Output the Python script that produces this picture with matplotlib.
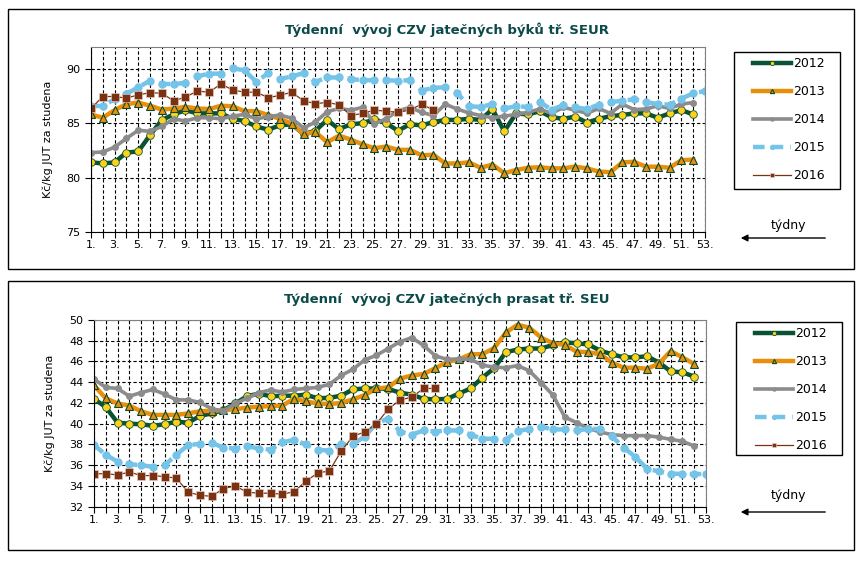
import numpy as np
import matplotlib
matplotlib.use("Agg")
import matplotlib.pyplot as plt
from matplotlib.patches import Rectangle, FancyArrowPatch

years = ["2012", "2013", "2014", "2015", "2016"]

# jatečný býk SEUR (Kč/kg)
byk_2012 = [81.4, 81.3, 81.4, 82.3, 82.4, 83.9, 85.3, 85.8, 86.2, 85.9, 85.9, 85.9, 85.4,
            85.2, 84.7, 84.4, 84.8, 84.9, 84.0, 84.3, 85.3, 84.45, 84.9, 85.0, 85.35, 85.0,
            84.3, 84.9, 84.8, 85.1, 85.3, 85.3, 85.4, 85.3, 86.3, 84.25, 85.9, 85.8, 86.1,
            85.55, 85.4, 85.6, 85.05, 85.4, 85.65, 85.75, 85.9, 85.9, 85.5, 85.9, 86.2, 85.8]
byk_2013 = [85.8, 85.5, 86.2, 86.75, 86.9, 86.6, 86.25, 86.35, 86.5, 86.35, 86.3, 86.6, 86.55,
            86.1, 86.1, 85.75, 85.4, 84.95, 84.0, 84.2, 83.25, 83.85, 83.5, 83.05, 82.7, 82.85,
            82.55, 82.55, 82.05, 82.1, 81.3, 81.3, 81.4, 80.9, 81.2, 80.4, 80.7, 80.9, 80.95,
            80.85, 80.85, 81.0, 80.85, 80.55, 80.5, 81.4, 81.45, 81.0, 81.0, 80.9, 81.6, 81.65]
byk_2014 = [82.3, 82.35, 82.8, 83.6, 84.35, 84.25, 84.7, 85.4, 85.2, 85.5, 85.5, 85.4, 85.65,
            85.8, 85.4, 85.6, 85.75, 85.45, 84.55, 85.1, 86.05, 86.35, 86.2, 86.45, 84.95, 85.4,
            86.15, 86.45, 86.0, 85.7, 86.75, 86.3, 85.95, 85.7, 85.5, 85.65, 85.8, 86.0, 86.3,
            85.9, 86.45, 86.2, 85.9, 86.35, 85.9, 86.75, 86.25, 86.3, 86.6, 86.35, 86.75, 86.9]
byk_2015 = [86.55, 86.6, 87.2, 87.7, 88.3, 88.9, 88.6, 88.6, 88.7, 89.3, 89.55, 89.55, 90.05,
            89.85, 88.8, 89.6, 89.05, 89.3, 89.6, 88.8, 89.2, 89.2, 89.05, 88.95, 88.95, 88.95,
            88.9, 88.95, 88.0, 88.25, 88.3, 87.8, 86.55, 86.5, 86.75, 86.35, 86.55, 86.5, 86.95,
            86.25, 86.65, 86.45, 86.3, 86.7, 86.95, 87.05, 87.2, 86.95, 86.75, 86.7, 87.25, 87.75,
            87.95]
byk_2016 = [86.35, 87.45, 87.45, 87.3, 87.6, 87.8, 87.75, 87.05, 87.4, 87.95, 87.85, 88.6, 88.05,
            87.85, 87.85, 87.35, 87.55, 87.85, 87.05, 86.8, 86.9, 86.7, 85.7, 85.9, 86.2, 86.1,
            86.0, 86.2, 86.75, 86.2]

# jatečné prase SEU (Kč/kg)
prase_2012 = [42.4, 41.6, 40.1, 40.0, 39.95, 39.8, 39.95, 40.2, 40.1, 40.75, 41.0, 41.3, 41.95,
              42.65, 42.9, 42.65, 42.7, 42.7, 42.8, 42.45, 42.5, 42.7, 43.3, 43.4, 43.4, 43.35,
              43.0, 42.8, 42.4, 42.35, 42.4, 42.9, 43.4, 44.45, 45.35, 46.9, 47.15, 47.25, 47.25,
              47.6, 47.85, 47.75, 47.65, 47.05, 46.7, 46.4, 46.4, 46.5, 45.9, 45.05, 44.95, 44.55]
prase_2013 = [43.7, 42.45, 41.95, 41.75, 41.2, 40.85, 40.85, 40.85, 41.0, 41.2, 41.25, 41.3, 41.4,
              41.55, 41.65, 41.7, 41.75, 42.4, 42.15, 41.95, 41.9, 42.0, 42.35, 42.75, 43.4, 43.5,
              44.35, 44.65, 44.8, 45.35, 45.95, 46.2, 46.7, 46.7, 47.3, 48.8, 49.55, 49.25, 48.3,
              47.75, 47.6, 46.95, 46.9, 46.7, 45.9, 45.4, 45.4, 45.3, 45.8, 47.0, 46.4, 45.75]
prase_2014 = [44.3, 43.5, 43.4, 42.65, 43.0, 43.3, 42.85, 42.3, 42.3, 42.05, 41.45, 41.2, 41.95,
              42.45, 43.0, 43.25, 43.05, 43.3, 43.4, 43.5, 43.8, 44.65, 45.25, 46.15, 46.6, 47.25,
              47.9, 48.3, 47.55, 46.55, 46.2, 46.25, 46.2, 45.65, 45.45, 45.4, 45.6, 45.1, 43.95,
              42.75, 40.65, 40.1, 39.55, 39.2, 38.95, 38.85, 38.85, 38.85, 38.7, 38.5, 38.3, 37.85]
prase_2015 = [37.95, 37.0, 36.35, 36.1, 36.0, 35.85, 36.0, 37.0, 37.95, 38.05, 38.15, 37.7, 37.6,
              37.85, 37.6, 37.5, 38.2, 38.45, 38.0, 37.5, 37.4, 38.0, 38.05, 38.75, 40.05, 40.5,
              39.25, 38.95, 39.35, 39.25, 39.35, 39.35, 38.95, 38.55, 38.55, 38.45, 39.3, 39.5,
              39.7, 39.45, 39.45, 39.35, 39.5, 39.5, 38.8, 37.7, 36.8, 35.65, 35.4, 35.2, 35.15,
              35.15, 35.15]
prase_2016 = [35.15, 35.2, 35.05, 35.35, 35.0, 35.0, 34.9, 34.75, 33.4, 33.1, 33.0, 33.75, 34.0,
              33.4, 33.3, 33.3, 33.2, 33.45, 34.45, 35.25, 35.45, 37.35, 38.8, 39.2, 40.0, 41.4,
              42.3, 42.55, 43.4, 43.4]

weeks_all = list(range(1, 54))
week_labels = [f"{w}." if w % 2 == 1 else "" for w in weeks_all]

styles = [
    dict(color="#0a5234", lw=3.2, marker="o", ms=5.5, mfc="#ffd21a", mec="#0a5234", mew=0.6),
    dict(color="#e8900c", lw=3.2, marker="^", ms=5.5, mfc="#e8900c", mec="#0a4a2a", mew=0.8),
    dict(color="#8c8c8c", lw=2.6, marker="o", ms=4.0, mfc="#8c8c8c", mec="#8c8c8c"),
    dict(color="#74c3e8", lw=3.2, marker="o", ms=5, mfc="#74c3e8", mec="#74c3e8",
         linestyle=(0, (2.6, 1.6))),
    dict(color="#7a3212", lw=0.9, marker="s", ms=5.5, mfc="#7a3212", mec="#f0d0c8", mew=0.4),
]

fig = plt.figure(figsize=(8.65, 5.62), dpi=100)
title_color = "#0c4a4a"


def px_rect(x, y, w, h, **kw):
    fig.patches.append(Rectangle((x / 865, 1 - (y + h) / 562), w / 865, h / 562,
                                 transform=fig.transFigure, fill=False,
                                 edgecolor="black", **kw))


px_rect(8, 9, 846, 260, lw=1.0)
px_rect(8, 281, 846, 269, lw=1.0)


def draw(ax, series, ylim, yticks, title, title_y, leg_box, arrow_y, label_y):
    for data, yr, st in zip(series, years, styles):
        weeks = np.arange(1, len(data) + 1)
        ax.plot(weeks, data, label=yr, **st)
    ax.set_xlim(1, 53)
    ax.set_ylim(*ylim)
    ax.set_xticks(weeks_all)
    ax.set_xticklabels(week_labels)
    ax.set_yticks(yticks)
    ax.tick_params(axis="both", labelsize=8, length=4, direction="out", width=0.8)
    ax.tick_params(axis="x", pad=2)
    ax.grid(True, which="major", color="black", linestyle=(0, (3, 2)), linewidth=0.8)
    ax.set_axisbelow(True)
    for s in ["top", "right"]:
        ax.spines[s].set_color("#808080")
    ax.set_ylabel("Kč/kg JUT za studena", fontsize=8, labelpad=10)
    fig.text(0.517, title_y, title, ha="center", va="center", fontsize=9.5,
             fontweight="bold", color=title_color)

    # legend: frame drawn separately, entries placed inside
    x0, y0, x1, y1 = leg_box
    px_rect(x0, y0, x1 - x0, y1 - y0, lw=1.0)
    ax.legend(loc="upper left", bbox_to_anchor=(x0 / 865 + 19 / 865, 1 - (y0 + 5) / 562),
              bbox_transform=fig.transFigure, fontsize=9, frameon=False,
              handlelength=3.0, labelspacing=1.2, borderpad=0, handletextpad=0.25,
              borderaxespad=0, markerscale=0.55)

    fig.text(788 / 865, 1 - label_y / 562, "týdny", ha="center", va="center", fontsize=9)
    fig.add_artist(FancyArrowPatch(
        (828 / 865, 1 - arrow_y / 562), (738 / 865, 1 - arrow_y / 562),
        transform=fig.transFigure, arrowstyle="-|>", mutation_scale=10,
        color="black", lw=1.0))


ax1 = fig.add_axes([91 / 865, 1 - 232 / 562, 614 / 865, 185 / 562])
draw(ax1, [byk_2012, byk_2013, byk_2014, byk_2015, byk_2016], (75, 92), [75, 80, 85, 90],
     "Týdenní  vývoj CZV jatečných býků tř. SEUR", 1 - 30 / 562,
     (734, 52, 840, 189), 238, 226)

ax2 = fig.add_axes([94 / 865, 1 - 506.7 / 562, 612 / 865, 186.7 / 562])
draw(ax2, [prase_2012, prase_2013, prase_2014, prase_2015, prase_2016], (32, 50),
     list(range(32, 51, 2)),
     "Týdenní  vývoj CZV jatečných prasat tř. SEU", 1 - 300 / 562,
     (736, 322, 842, 455), 512, 496)

fig.savefig("out.png", dpi=100)
